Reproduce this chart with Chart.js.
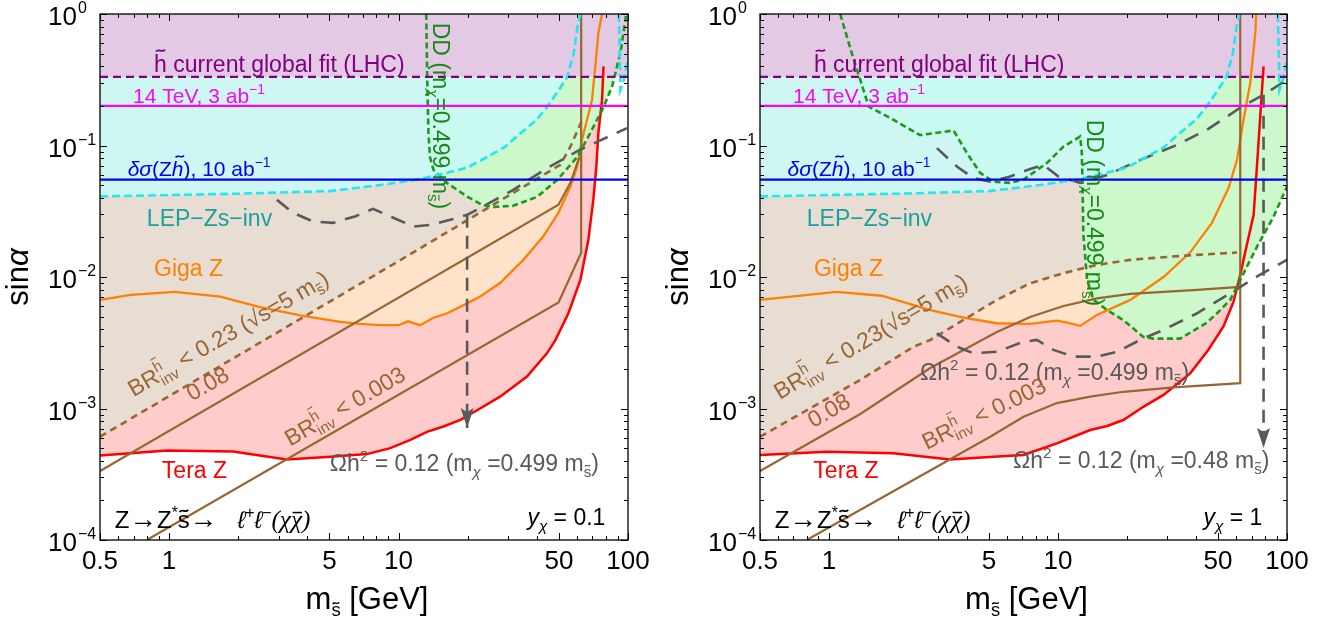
<!DOCTYPE html>
<html><head><meta charset="utf-8">
<script src="https://cdn.jsdelivr.net/npm/chart.js@4.4.1/dist/chart.umd.min.js"></script>
<style>
html,body{margin:0;padding:0;background:#fff;}
#wrap{position:relative;width:1330px;height:626px;overflow:hidden;}
canvas{position:absolute;top:0;}
#c1{left:0;} #c2{left:660px;}
</style></head><body>
<div id="wrap"><canvas id="c1" width="660" height="626"></canvas><canvas id="c2" width="670" height="626"></canvas></div>
<script>
// ---------------- tick values / labels ----------------
const mTickMajor = [0.5, 1, 5, 10, 50, 100];
const mTickLabels = ['0.5', '1', '5', '10', '50', '100'];
const mTickMinor = [0.6, 0.7, 0.8, 0.9, 2, 3, 4, 6, 7, 8, 9, 20, 30, 40, 60, 70, 80, 90];
const sTickMajor = [1, 0.1, 0.01, 0.001, 0.0001];
const sTickExp = ['0', '\u22121', '\u22122', '\u22123', '\u22124'];
const sTickMinor = [0.2,0.3,0.4,0.5,0.6,0.7,0.8,0.9,0.02,0.03,0.04,0.05,0.06,0.07,0.08,0.09,
  0.002,0.003,0.004,0.005,0.006,0.007,0.008,0.009,0.0002,0.0003,0.0004,0.0005,0.0006,0.0007,0.0008,0.0009];

// ---------------- common constraints ----------------
const hGlobalFit = 0.333;   // h~ current global fit (LHC)
const hl14TeV = 0.2;        // 14 TeV, 3 ab^-1
const dSigmaZh = 0.055;     // delta sigma(Zh~), 10 ab^-1
const lepInv = [[0.5,0.041],[1,0.042],[2,0.043],[5,0.045],[8.3,0.05],[12,0.055],[16.3,0.062],[20,0.068],[24.4,0.082],[29,0.097],[34,0.124],[40,0.157],[44.5,0.197],[50,0.265],[54.4,0.333],[58,0.5],[60,0.76],[61.9,1]];
const lepInvHigh = [[91.2,1],[92,0.535],[92.7,0.265],[95.9,0.316],[100,0.45]];

// ---------------- left panel: y_chi = 0.1 ----------------
const teraL = [[0.5,0.00044],[0.98,0.00048],[1.9,0.00047],[3.26,0.00041],[5.04,0.00043],[7.28,0.00045],[9.2,0.0005],[11.2,0.000575],[13.3,0.000665],[15.7,0.00073],[18.6,0.00082],[22,0.00097],[27.7,0.00123],[36.3,0.00175],[44.4,0.00264],[48.2,0.0033],[55,0.0053],[62,0.0095],[67.2,0.0192],[70.6,0.0386],[72.8,0.069],[74.3,0.125],[77.1,0.223],[78.2,0.40]];
const gigaL = [[0.5,0.0067],[0.68,0.0073],[1.06,0.0077],[1.67,0.0071],[2.49,0.0059],[3.73,0.0051],[5.57,0.00455],[6.8,0.0044],[8.3,0.0043],[10,0.0043],[11,0.0046],[12.4,0.0043],[14.2,0.0049],[16.3,0.0053],[19.9,0.0063],[22.7,0.0071],[27.7,0.009],[35,0.0135],[42.7,0.0203],[49.7,0.0307],[56.1,0.0488],[60,0.069],[63,0.11],[66.3,0.157],[69.7,0.223],[72,0.397],[74.3,0.72],[77.1,1]];
const br23L = [[0.5,0.00061],[10,0.0132],[50.7,0.0713],[56.1,0.098],[62.5,0.15]];
const br08L = [[0.5,0.000334],[49.8,0.0354],[56.1,0.052],[60.8,0.0778],[62.5,0.082]];
const br003L = [[0.8,0.0001],[49.8,0.00641],[62.5,0.0153],[62.5,1]];
const ddL = [[13.2,1],[13.35,0.3],[13.5,0.125],[13.7,0.082],[14.2,0.0653],[16.3,0.0517],[19.9,0.0409],[23.1,0.0354],[25.9,0.0341],[31.6,0.0348],[40.2,0.0407],[49.2,0.0548],[60.2,0.082],[68.5,0.125],[77.3,0.187],[85.2,0.281],[92.7,0.507],[97.4,0.905],[98,1]];
const relic499L = [[2.95,0.0386],[3.47,0.0308],[4.25,0.0264],[5.19,0.0258],[6.5,0.029],[7.75,0.033],[9.48,0.0282],[11.6,0.0242],[14,0.025],[16.8,0.0272],[19.9,0.0297],[22.7,0.0334],[31.6,0.046],[44.4,0.0673],[61.9,0.093],[99,0.1356]];
const arrowL = [[19.9,0.0297],[19.9,0.00071]];

// ---------------- right panel: y_chi = 1 ----------------
const teraR = [[0.5,0.000443],[0.978,0.000469],[1.91,0.000456],[3.38,0.00041],[5.23,0.00043],[7.07,0.000443],[9.89,0.000543],[13.83,0.000686],[16.4,0.000736],[19.3,0.000817],[23.6,0.00103],[28.9,0.00127],[37.8,0.00185],[45.3,0.00279],[52.8,0.0042],[58.4,0.00647],[62.5,0.0104],[66.8,0.0176],[71.5,0.0297],[73.9,0.0692],[76.4,0.166],[79,0.40]];
const gigaR = [[0.5,0.0067],[1.08,0.0077],[1.7,0.0072],[2.77,0.0056],[3.87,0.0049],[5.41,0.00445],[7.56,0.0044],[9.89,0.00466],[11,0.0045],[12.5,0.00425],[14.8,0.00515],[20.7,0.0067],[28.9,0.01],[37.8,0.0154],[47,0.0258],[55.6,0.0477],[60.5,0.0778],[64.6,0.157],[69.1,0.298],[72.7,0.717],[73.3,1]];
const br23R = [[0.5,0.00061],[1.37,0.00165],[2.34,0.00295],[2.77,0.00332],[3.87,0.00472],[5.41,0.0067],[7.56,0.00897],[10.57,0.0107],[14.8,0.01236],[20.7,0.0135],[28.9,0.01415],[40.5,0.01474],[60.5,0.01534]];
const br08R = [[0.5,0.000334],[1.37,0.000908],[2.77,0.00203],[5.41,0.00382],[7.56,0.00497],[10.57,0.00602],[14.8,0.00687],[20.7,0.00744],[28.9,0.0077],[40.5,0.00797],[62.5,0.0084]];
const br003R = [[0.8,0.0001],[5.06,0.00061],[7.07,0.000866],[9.89,0.0011],[13.83,0.00123],[19.3,0.00134],[32,0.00145],[62.5,0.00156],[62.5,1]];
const ddR = [[1.12,1],[1.27,0.476],[1.37,0.316],[1.49,0.198],[1.91,0.157],[2.5,0.12],[3.5,0.13],[4.0,0.088],[4.57,0.062],[5.23,0.053],[6.18,0.052],[7.07,0.055],[8.94,0.0735],[10.57,0.098],[12.5,0.117],[12.7,0.09],[12.8,0.05],[12.9,0.0215],[13.4,0.0095],[14.3,0.0067],[16.4,0.0056],[19.3,0.0047],[23.6,0.0035],[26.2,0.0034],[34.2,0.0034],[44.7,0.0045],[49.5,0.0053],[56.5,0.0067],[62.5,0.0095],[74,0.017],[87.4,0.0288],[100,0.0488]];
const relic48R = [[2.96,0.0955],[3.62,0.0692],[4.27,0.0565],[5.06,0.0532],[6.18,0.0581],[7.5,0.066],[8.64,0.0713],[10.05,0.0581],[12.5,0.052],[16.4,0.0598],[22.9,0.0778],[33.1,0.101],[44.7,0.1317],[62.5,0.1936],[79,0.243],[100,0.316]];
const relic499R = [[2.96,0.00373],[3.62,0.00295],[4.27,0.00263],[5.41,0.0027],[7.07,0.00322],[8.09,0.00332],[9.56,0.00279],[11.7,0.00248],[14.8,0.00248],[18.1,0.0027],[23.6,0.00342],[28.9,0.00396],[40.5,0.0053],[56.5,0.00753],[74,0.0101],[100,0.0135]];
const arrowR = [[79,0.243],[79,0.0005]];

// ---------------- styles ----------------
const C = {purple:'#800080', magenta:'#ff00ff', blue:'#0000ee', cyan:'#22e6f2', green:'#1a9a1a',
  orange:'#ff8000', red:'#ff0000', brown:'#996633', gray:'#595959', teal:'#1aa0a0', ddText:'#168a16', black:'#000'};
const F = {pink:'#ffcccc', peach:'#fee3ca', tan:'#e8ddd3', green:'#ccf8cc', cyan:'rgba(200,252,250,0.84)', purple:'#e3c9e3'};
const FAM = '"Liberation Sans", Arial, sans-serif';
const SERIF = '"Liberation Serif", "Times New Roman", serif';

// ---------------- rich text ----------------
const T = (t, o) => Object.assign({t}, o || {});
function fnt(s, base) {
  const sz = base * (s.sup || s.sub ? 0.66 : 1) * (s.sc || 1);
  return {sz, css: (s.it ? 'italic ' : '') + sz.toFixed(2) + 'px ' + (s.serif ? SERIF : FAM)};
}
function dyOf(s, base) { return (s.sup ? -0.42 : s.sub ? 0.24 : 0) * base; }
function segW(ctx, s, base) {
  if (s.stack) return Math.max.apply(null, s.stack.map(q => segW(ctx, q, base)));
  ctx.font = fnt(s, base).css;
  return ctx.measureText(s.t).width;
}
function segDraw(ctx, s, x, base) {
  if (s.stack) { s.stack.forEach(q => segDraw(ctx, q, x, base)); return; }
  const f = fnt(s, base); ctx.font = f.css;
  const y = dyOf(s, base);
  ctx.fillText(s.t, x, y);
  const w = ctx.measureText(s.t).width;
  if (s.acc) {
    const L = w * 0.72, x0 = x + w * 0.14 + (s.it ? f.sz * 0.1 : 0), yc = y - f.sz * s.acc, a = f.sz * 0.06;
    ctx.save(); ctx.strokeStyle = ctx.fillStyle; ctx.lineWidth = Math.max(1, f.sz * 0.075);
    ctx.beginPath(); ctx.moveTo(x0, yc + a * 0.7);
    ctx.bezierCurveTo(x0 + L * 0.35, yc - a * 2, x0 + L * 0.65, yc + a * 2, x0 + L, yc - a * 0.7);
    ctx.stroke(); ctx.restore();
  }
  if (s.bar) {
    ctx.save(); ctx.strokeStyle = ctx.fillStyle; ctx.lineWidth = Math.max(1, f.sz * 0.06);
    const yb = y - f.sz * s.bar; ctx.beginPath(); ctx.moveTo(x + w * 0.15, yb); ctx.lineTo(x + w * 1.0, yb); ctx.stroke(); ctx.restore();
  }
}
function rich(ctx, x, y, segs, o) {
  ctx.save(); ctx.translate(x, y); if (o.rot) ctx.rotate(o.rot * Math.PI / 180);
  ctx.fillStyle = o.color || '#000'; ctx.textAlign = 'left'; ctx.textBaseline = 'alphabetic';
  const ws = segs.map(s => segW(ctx, s, o.size));
  const tot = ws.reduce((a, b) => a + b, 0);
  let cx = o.align === 'right' ? -tot : o.align === 'center' ? -tot / 2 : 0;
  segs.forEach((s, i) => { segDraw(ctx, s, cx, o.size); cx += ws[i]; });
  ctx.restore();
}
const subS = () => T('s', {sub: 1, acc: 0.72});
const brInv = () => [T('BR'), {stack: [T('h', {sup: 1, acc: 0.92}), T('inv', {sub: 1})]}];
function commonLabels(teraX) {
  return [
    {x: 0.86, y: 0.364, size: 23, color: C.purple, segs: [T('h', {acc: 0.92}), T(' current global fit (LHC)')]},
    {x: 0.697, y: 0.211, size: 21, color: C.magenta, segs: [T('14 TeV, 3 ab'), T('\u22121', {sup: 1})]},
    {x: 0.66, y: 0.0588, size: 21, color: C.blue, segs: [T('\u03b4\u03c3', {it: 1}), T('(Z'), T('h', {it: 1, acc: 0.92}), T('), 10 ab'), T('\u22121', {sup: 1})]},
    {x: 0.80, y: 0.0245, size: 23, color: C.teal, segs: [T('LEP\u2212Zs\u2212inv')]},
    {x: 0.86, y: 0.0102, size: 23, color: C.orange, segs: [T('Giga Z')]},
    {x: teraX, y: 0.000296, size: 23, color: C.red, segs: [T('Tera Z')]},
    {x: 0.58, y: 0.000123, size: 24, color: C.black, segs: [T('Z'), T('\u2192', {sc: 1.15}), T('Z'), T('*', {sup: 1}), T('s', {acc: 0.72}), T('\u2192', {sc: 1.15}), T('   '),
      T('\u2113', {it: 1}), T('+', {sup: 1}), T('\u2113', {it: 1}), T('\u2212', {sup: 1}), T('(\u03c7', {serif: 1, it: 1, sc: 1.05}), T('\u03c7', {serif: 1, it: 1, bar: 0.62, sc: 1.05}), T(')', {serif: 1, it: 1, sc: 1.05})]}
  ];
}
const labelsL = commonLabels(0.93).concat([
  {x: 79.7, y: 0.00013, size: 23, align: 'right', color: C.black, segs: [T('y', {it: 1}), T('\u03c7', {it: 1, sub: 1}), T(' = 0.1')]},
  {x: 5.02, y: 0.000334, size: 23, color: C.gray, segs: [T('\u03a9h'), T('2', {sup: 1}), T(' = 0.12 (m'), T('\u03c7', {it: 1, sub: 1}), T(' =0.499 m'), subS(), T(')')]},
  {x: 0.70, y: 0.00122, size: 23, rot: -30, color: C.brown, segs: brInv().concat([T(' < 0.23 (\u221as=5 m'), subS(), T(')')])},
  {x: 1.26, y: 0.00113, size: 23, rot: -30, color: C.brown, segs: [T('0.08')]},
  {x: 3.37, y: 0.000512, size: 23, rot: -30, color: C.brown, segs: brInv().concat([T(' < 0.003')])},
  {x: 14.2, y: 0.859, size: 23, rot: 90, color: C.ddText, segs: [T('DD (m'), T('\u03c7', {it: 1, sub: 1}), T('=0.499 m'), subS(), T(')')]}
]);
const labelsR = commonLabels(0.855).concat([
  {x: 78, y: 0.00013, size: 23, align: 'right', color: C.black, segs: [T('y', {it: 1}), T('\u03c7', {it: 1, sub: 1}), T(' = 1')]},
  {x: 2.5, y: 0.00165, size: 23, color: C.gray, segs: [T('\u03a9h'), T('2', {sup: 1}), T(' = 0.12 (m'), T('\u03c7', {it: 1, sub: 1}), T(' =0.499 m'), subS(), T(')')]},
  {x: 6.37, y: 0.000352, size: 23, color: C.gray, segs: [T('\u03a9h'), T('2', {sup: 1}), T(' = 0.12 (m'), T('\u03c7', {it: 1, sub: 1}), T(' =0.48 m'), subS(), T(')')]},
  {x: 0.61, y: 0.00116, size: 23, rot: -31, color: C.brown, segs: brInv().concat([T(' < 0.23(\u221as=5 m'), subS(), T(')')])},
  {x: 0.855, y: 0.000707, size: 23, rot: -30, color: C.brown, segs: [T('0.08')]},
  {x: 2.67, y: 0.000483, size: 23, rot: -26, color: C.brown, segs: brInv().concat([T(' < 0.003')])},
  {x: 13.4, y: 0.157, size: 23, rot: 90, color: C.ddText, segs: [T('DD (m'), T('\u03c7', {it: 1, sub: 1}), T('=0.499 m'), subS(), T(')')]}
]);

// ---------------- chart building ----------------
const pts = a => a.map(p => ({x: p[0], y: p[1]}));
const hLine = v => [[0.5, v], [100, v]];
function line(data, o) {
  return Object.assign({data: pts(data), pointRadius: 0, pointHoverRadius: 0, borderWidth: 2, fill: false, tension: 0, spanGaps: true}, o);
}
function decoPlugin(P) {
  return {
    id: 'deco',
    afterDatasetsDraw(chart) {
      const ctx = chart.ctx, xs = chart.scales.x, ys = chart.scales.y, a = chart.chartArea;
      // arrow heads
      P.arrows.forEach(ar => {
        const p = ar[ar.length - 1];
        const tx = xs.getPixelForValue(p[0]), ty = ys.getPixelForValue(p[1]);
        ctx.save(); ctx.fillStyle = C.gray; ctx.beginPath();
        ctx.moveTo(tx, ty); ctx.lineTo(tx - 6.5, ty - 20); ctx.lineTo(tx, ty - 16); ctx.lineTo(tx + 6.5, ty - 20); ctx.closePath(); ctx.fill(); ctx.restore();
      });
      // labels inside plot
      ctx.save(); ctx.beginPath(); ctx.rect(a.left, a.top, a.right - a.left, a.bottom - a.top); ctx.clip();
      P.labels.forEach(l => rich(ctx, xs.getPixelForValue(l.x), ys.getPixelForValue(l.y), l.segs, l));
      ctx.restore();
      // frame
      ctx.save();
      ctx.strokeStyle = '#000'; ctx.lineWidth = 1.3;
      ctx.strokeRect(a.left, a.top, a.right - a.left, a.bottom - a.top);
      ctx.lineWidth = 1;
      const seg = (x1, y1, x2, y2) => { ctx.beginPath(); ctx.moveTo(x1, y1); ctx.lineTo(x2, y2); ctx.stroke(); };
      const xt = (v, len) => { const px = Math.round(xs.getPixelForValue(v)) + 0.5; seg(px, a.bottom, px, a.bottom - len); seg(px, a.top, px, a.top + len); };
      const yt = (v, len) => { const py = Math.round(ys.getPixelForValue(v)) + 0.5; seg(a.left, py, a.left + len, py); seg(a.right, py, a.right - len, py); };
      mTickMajor.forEach(v => xt(v, 7)); mTickMinor.forEach(v => xt(v, 4));
      sTickMajor.forEach(v => yt(v, 7)); sTickMinor.forEach(v => yt(v, 4));
      // tick labels
      ctx.fillStyle = '#000'; ctx.textBaseline = 'alphabetic';
      ctx.font = '26px ' + FAM; ctx.textAlign = 'center';
      mTickMajor.forEach((v, i) => ctx.fillText(mTickLabels[i], xs.getPixelForValue(v), a.bottom + 29));
      sTickMajor.forEach((v, i) => {
        const py = ys.getPixelForValue(v);
        ctx.font = '26px ' + FAM; ctx.textAlign = 'right'; ctx.fillText('10', a.left - 23, py + 11);
        ctx.font = '16px ' + FAM; ctx.textAlign = 'left'; ctx.fillText(sTickExp[i], a.left - 22, py - 1);
      });
      ctx.restore();
      // axis titles
      rich(ctx, a.left - 72, (a.top + a.bottom) / 2, [T('sin'), T('\u03b1', {it: 1})], {size: 31, rot: -90, align: 'center', color: '#000'});
      rich(ctx, (a.left + a.right) / 2 + 3, 609, [T('m'), T('s', {sub: 1, acc: 0.72, sc: 0.9}), T(' [GeV]')], {size: 31, align: 'center', color: '#000'});
    }
  };
}
function buildChart(id, P, padRight) {
  const datasets = [
    line(P.tera, {order: 30, borderColor: C.red, borderWidth: 2.5, fill: 'end', backgroundColor: F.pink}),
    line(P.giga, {order: 29, borderColor: C.orange, borderWidth: 2.3, fill: 'end', backgroundColor: F.peach}),
    line(P.br23, {order: 28, borderColor: C.brown, borderWidth: 2.6, borderDash: [7, 5], fill: 'end', backgroundColor: F.tan}),
    line(P.br08, {order: 27, borderColor: C.brown, borderWidth: 2.2}),
    line(P.br003, {order: 26, borderColor: C.brown, borderWidth: 2.2})
  ];
  P.relic.forEach(r => datasets.push(line(r, {order: 25, borderColor: C.gray, borderWidth: 2.6, borderDash: [15, 10]})));
  P.arrows.forEach(r => datasets.push(line(r, {order: 24, borderColor: C.gray, borderWidth: 2.6, borderDash: [13, 8]})));
  datasets.push(
    line(P.dd, {order: 23, borderColor: C.green, borderWidth: 2.6, borderDash: [6, 3.5], fill: 'end', backgroundColor: F.green}),
    line(lepInv, {order: 22, borderColor: C.cyan, borderWidth: 2.6, borderDash: [8, 4], fill: 'end', backgroundColor: F.cyan}),
    line(lepInvHigh, {order: 21, borderColor: C.cyan, borderWidth: 2.6, borderDash: [8, 4]}),
    line(hLine(dSigmaZh), {order: 20, borderColor: C.blue, borderWidth: 2.4}),
    line(hLine(hl14TeV), {order: 19, borderColor: C.magenta, borderWidth: 2.2}),
    line(hLine(hGlobalFit), {order: 18, borderColor: C.purple, borderWidth: 2.2, borderDash: [8, 5], fill: 'end', backgroundColor: F.purple})
  );
  return new Chart(document.getElementById(id), {
    type: 'line',
    data: {datasets},
    options: {
      responsive: false, animation: false, devicePixelRatio: 1, events: [],
      layout: {padding: {left: 100, right: padRight, top: 14, bottom: 86}},
      scales: {
        x: {type: 'logarithmic', min: 0.5, max: 100, display: false},
        y: {type: 'logarithmic', min: 0.0001, max: 1, display: false}
      },
      plugins: {legend: {display: false}, tooltip: {enabled: false}, filler: {drawTime: 'beforeDatasetsDraw'}}
    },
    plugins: [decoPlugin(P)]
  });
}
buildChart('c1', {tera: teraL, giga: gigaL, br23: br23L, br08: br08L, br003: br003L, dd: ddL, relic: [relic499L], arrows: [arrowL], labels: labelsL}, 32);
buildChart('c2', {tera: teraR, giga: gigaR, br23: br23R, br08: br08R, br003: br003R, dd: ddR, relic: [relic48R, relic499R], arrows: [arrowR], labels: labelsR}, 43);
</script>
</body></html>
